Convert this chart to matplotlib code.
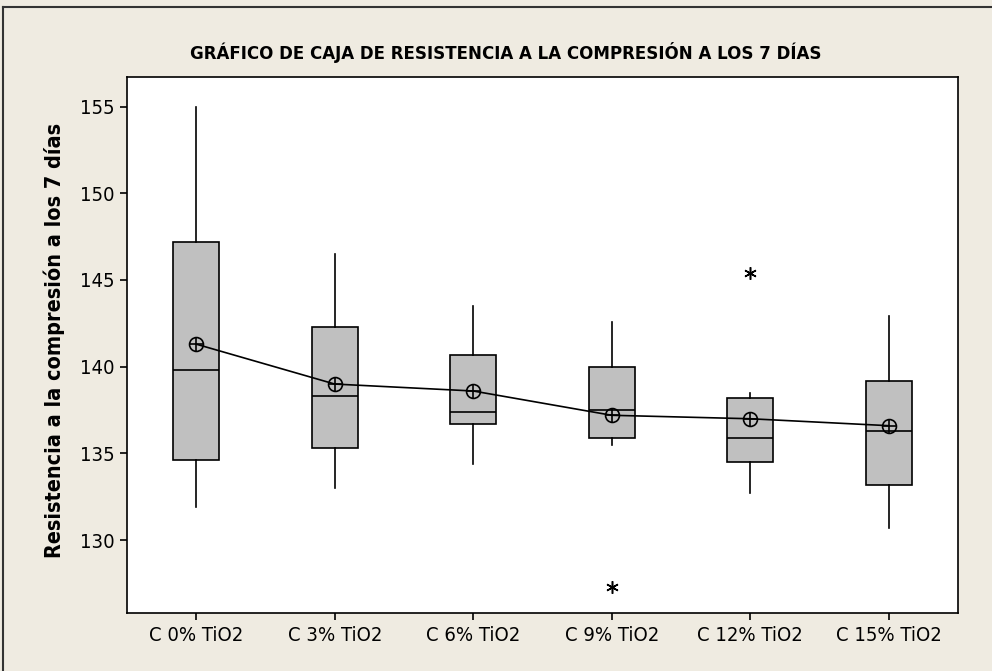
import matplotlib
matplotlib.use("Agg")
import matplotlib.pyplot as plt
from matplotlib.lines import Line2D

# Compressive strength at 7 days, by TiO2 content
groups = ["C 0% TiO2", "C 3% TiO2", "C 6% TiO2", "C 9% TiO2", "C 12% TiO2", "C 15% TiO2"]
whisker_low = [131.9, 133.0, 134.4, 135.5, 132.7, 130.7]
q1 = [134.6, 135.3, 136.7, 135.9, 134.5, 133.2]
median = [139.8, 138.3, 137.4, 137.5, 135.9, 136.3]
q3 = [147.2, 142.3, 140.7, 140.0, 138.2, 139.2]
whisker_high = [155.0, 146.5, 143.5, 142.6, 138.5, 142.9]
means = [141.3, 139.0, 138.6, 137.2, 137.0, 136.6]
outliers = [[], [], [], [127.3], [145.4], []]

yticks = [130, 135, 140, 145, 150, 155]

BG = "#EFEBE1"
plt.rcParams["font.family"] = ["DejaVu Sans"]
plt.rcParams["font.stretch"] = "condensed"

fig = plt.figure(figsize=(9.92, 6.71), dpi=100, facecolor=BG)
ax = fig.add_axes([0.128, 0.0864, 0.8377, 0.7988])
ax.set_facecolor("white")

stats = []
for i, name in enumerate(groups):
    stats.append(dict(label=name, whislo=whisker_low[i], q1=q1[i], med=median[i],
                      q3=q3[i], whishi=whisker_high[i], mean=means[i],
                      fliers=outliers[i]))

positions = list(range(1, len(groups) + 1))
ax.bxp(stats, positions=positions, widths=0.33, patch_artist=True,
       showmeans=False, showcaps=False, showfliers=True,
       boxprops=dict(facecolor="#C0C0C0", edgecolor="black", linewidth=1.2),
       medianprops=dict(color="black", linewidth=1.2),
       whiskerprops=dict(color="black", linewidth=1.2),
       flierprops=dict(marker=(6, 2, 0), markersize=9, markeredgecolor="black",
                       markeredgewidth=1.1, linestyle="none"))

# mean connect line with circle-cross symbols
ax.plot(positions, means, color="black", linewidth=1.2, zorder=4)
ax.plot(positions, means, linestyle="none", marker="o", markersize=10,
        markerfacecolor="none", markeredgecolor="black", markeredgewidth=1.2, zorder=5)
ax.plot(positions, means, linestyle="none", marker="+", markersize=10,
        markeredgecolor="black", markeredgewidth=1.2, zorder=5)

ax.set_xlim(0.5, 6.5)
ax.set_ylim(125.8, 156.7)
ax.set_yticks(yticks)
ax.set_yticklabels([str(v) for v in yticks])
ax.set_xticks(positions)
ax.set_xticklabels(groups)
ax.tick_params(axis="both", which="major", direction="out", length=5, width=1.2,
               labelsize=14.5, pad=4, color="black", labelcolor="black")
ax.tick_params(top=False, right=False)
for sp in ax.spines.values():
    sp.set_linewidth(1.2)
    sp.set_color("black")

ax.set_ylabel("Resistencia a la compresión a los 7 días", fontsize=15.5,
              fontweight="bold")
ax.yaxis.set_label_coords(-0.075, 0.508)

fig.text(0.51, 0.9225, "GRÁFICO DE CAJA DE RESISTENCIA A LA COMPRESIÓN A LOS 7 DÍAS",
         ha="center", va="center", fontsize=13.3, fontweight="bold")

# outer frame edges (top and left)
fig.add_artist(Line2D([0.003, 1.0], [1 - 7 / 671, 1 - 7 / 671], transform=fig.transFigure,
                      color="#333333", linewidth=1.5))
fig.add_artist(Line2D([3 / 992, 3 / 992], [0.0, 1 - 7 / 671], transform=fig.transFigure,
                      color="#333333", linewidth=1.5))

fig.savefig("out.png", dpi=100, facecolor=BG)
